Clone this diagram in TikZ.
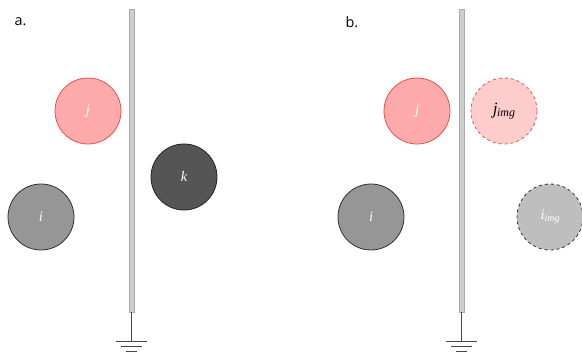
\documentclass[tikz,border=0pt]{standalone}
\usepackage{fontspec}
\setsansfont{Open Sans}
\setmainfont{Liberation Serif}
\begin{document}
\begin{tikzpicture}[x=1pt,y=-1pt,
  ball/.style={circle,minimum size=66pt,inner sep=0pt,line width=0.8pt,font=\Large\itshape},
  rjball/.style={ball,fill={rgb,255:red,255;green,170;blue,170},draw={rgb,255:red,235;green,80;blue,80},text=white},
  giball/.style={ball,fill={rgb,255:red,150;green,150;blue,150},draw={rgb,255:red,50;green,50;blue,50},text=white},
  kball/.style={ball,fill={rgb,255:red,85;green,85;blue,85},draw={rgb,255:red,35;green,35;blue,35},text=white},
  jimg/.style={ball,dashed,fill={rgb,255:red,255;green,204;blue,204},draw={rgb,255:red,235;green,80;blue,80},text=black,font=\LARGE\itshape},
  iimg/.style={ball,dashed,fill={rgb,255:red,190;green,190;blue,190},draw={rgb,255:red,50;green,50;blue,50},text=white},
  rod/.style={fill={rgb,255:red,205;green,205;blue,205},draw={rgb,255:red,170;green,170;blue,170},line width=0.6pt},
  gnd/.style={draw={rgb,255:red,70;green,70;blue,70},line width=1pt},
  lbl/.style={font=\sffamily\Large,anchor=west}]
\useasboundingbox (0,0) rectangle (582,354);
% panel a
\node[lbl] (la) at (11,22) {a.};
\draw[rod] (129,9) rectangle (134,312);
\coordinate (ga) at (131.5,312);
\coordinate (gb) at (131.5,341);
\draw[gnd] (ga) -- (gb);
\draw[gnd] (116,341) -- (147,341);
\draw[gnd] (121,346) -- (142,346);
\draw[gnd] (126,351) -- (137,351);
\node[rjball] (ja) at (88,111) {j};
\node[giball] (ia) at (41,217) {i};
\node[kball] (ka) at (184,177) {k};
% panel b
\node[lbl] (lb) at (342,22) {b.};
\draw[rod] (459,9) rectangle (464,312);
\coordinate (gc) at (461.5,312);
\coordinate (gd) at (461.5,341);
\draw[gnd] (gc) -- (gd);
\draw[gnd] (446,341) -- (477,341);
\draw[gnd] (451,346) -- (472,346);
\draw[gnd] (456,351) -- (467,351);
\node[rjball] (jb) at (417,111) {j};
\node[jimg] (jbi) at (504,111) {j\kern-0.5pt\raisebox{-0.3ex}{\large img}};
\node[giball] (ib) at (371,217) {i};
\node[iimg] (ibi) at (550,217) {i\raisebox{-0.3ex}{\normalsize img}};
\end{tikzpicture}
\end{document}
